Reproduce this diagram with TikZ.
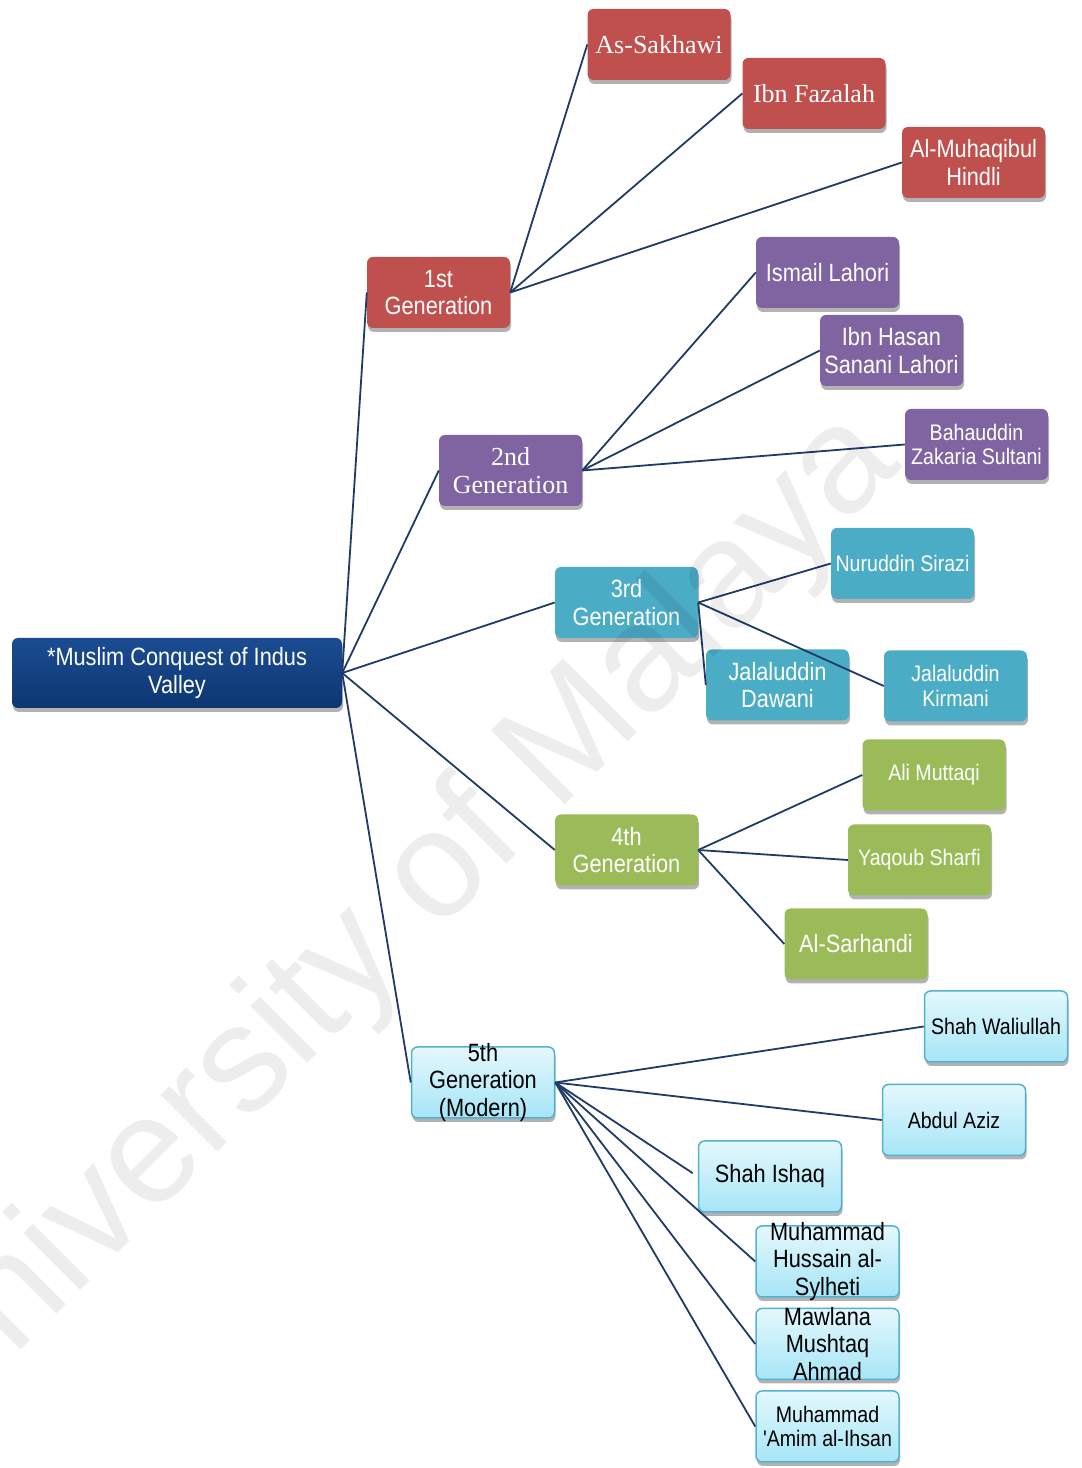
\documentclass[tikz,border=0pt]{standalone}
\usepackage{fontspec}
\setmainfont{Liberation Sans}
\newfontfamily\narrowsf{Liberation Sans}[FakeStretch=0.87]
\newfontfamily\timesrm{Liberation Serif}
\usetikzlibrary{shadows,positioning}
\definecolor{genred}{HTML}{C0504D}
\definecolor{genpurple}{HTML}{8064A2}
\definecolor{genteal}{HTML}{4BACC6}
\definecolor{gengreen}{HTML}{9BBB59}
\definecolor{roottop}{HTML}{1B4C92}
\definecolor{rootbot}{HTML}{0D3672}
\definecolor{moderntop}{HTML}{E4F8FD}
\definecolor{modernbot}{HTML}{A6E5F7}
\definecolor{modernline}{HTML}{55B2CE}
\definecolor{navy}{HTML}{1F3B66}
\tikzstyle{link} = [draw, navy, line width=1.8pt]
\tikzstyle{box} = [rectangle, rounded corners=6pt, minimum width=143pt, minimum height=71pt, inner sep=2pt, align=center, text=white, font=\narrowsf\fontsize{25}{27.5}\selectfont, drop shadow={shadow xshift=1pt, shadow yshift=-4pt, opacity=0.3, fill=black}]
\tikzstyle{small} = [font=\narrowsf\fontsize{22.5}{24.75}\selectfont]
\tikzstyle{serif} = [font=\timesrm\fontsize{26}{28}\selectfont]
\tikzstyle{root} = [box, minimum width=330pt, minimum height=70pt, top color=roottop, bottom color=rootbot]
\tikzstyle{red} = [box, fill=genred]
\tikzstyle{purple} = [box, fill=genpurple]
\tikzstyle{teal} = [box, fill=genteal]
\tikzstyle{green} = [box, fill=gengreen]
\tikzstyle{modern} = [box, text=black, draw=modernline, line width=1.5pt, top color=moderntop, bottom color=modernbot]
\tikzstyle{spill} = [align=center, text=black, font=\narrowsf\fontsize{25}{27.5}\selectfont]
\tikzstyle{watermark} = [text=black, text opacity=0.07, font=\fontsize{152}{152}\selectfont]

\begin{document}
\begin{tikzpicture}[x=1pt, y=1pt]
\useasboundingbox (0,0) rectangle (1082,1468);

\node [root] (conquest) at (177,795) {*Muslim Conquest of Indus\\Valley};

% generations
\node [red, right of=conquest, node distance=261.5pt, yshift=380.5pt] (gen1) {1st\\Generation};
\node [purple, serif, right of=conquest, node distance=333.5pt, yshift=202.5pt] (gen2) {2nd\\Generation};
\node [teal, right of=conquest, node distance=449.5pt, yshift=70.5pt] (gen3) {3rd\\Generation};
\node [green, right of=conquest, node distance=449.5pt, yshift=-177pt] (gen4) {4th\\Generation};
\node [modern, right of=conquest, node distance=306pt, yshift=-409.5pt, label={[spill]center:5th\\Generation\\(Modern)}] (gen5) {};

\path [link] (conquest.east) to (gen1.west);
\path [link] (conquest.east) to (gen2.west);
\path [link] (conquest.east) to (gen3.west);
\path [link] (conquest.east) to (gen4.west);
\path [link] (conquest.east) to (gen5.west);

% 1st generation
\node [red, serif, right of=gen1, node distance=220.5pt, yshift=248pt] (sakhawi) {As-Sakhawi};
\node [red, serif, right of=gen1, node distance=375.5pt, yshift=199pt] (fazalah) {Ibn Fazalah};
\node [red, right of=gen1, node distance=535pt, yshift=130pt] (muhaqib) {Al-Muhaqibul\\Hindli};
\path [link] (gen1.east) to (sakhawi.west);
\path [link] (gen1.east) to (fazalah.west);
\path [link] (gen1.east) to (muhaqib.west);

% 2nd generation
\node [purple, right of=gen2, node distance=317pt, yshift=198pt] (ismail) {Ismail Lahori};
\node [purple, right of=gen2, node distance=381pt, yshift=120pt] (hasan) {Ibn Hasan\\Sanani Lahori};
\node [purple, small, right of=gen2, node distance=466pt, yshift=26pt] (bahauddin) {Bahauddin\\Zakaria Sultani};
\path [link] (gen2.east) to (ismail.west);
\path [link] (gen2.east) to (hasan.west);
\path [link] (gen2.east) to (bahauddin.west);

% 3rd generation
\node [teal, small, right of=gen3, node distance=276pt, yshift=39pt] (nuruddin) {Nuruddin Sirazi};
\node [teal, right of=gen3, node distance=151pt, yshift=-82.5pt] (dawani) {Jalaluddin\\Dawani};
\node [teal, small, right of=gen3, node distance=329pt, yshift=-83.5pt] (kirmani) {Jalaluddin\\Kirmani};
\path [link] (gen3.east) to (nuruddin.west);
\path [link] (gen3.east) to (dawani.west);
\path [link] (gen3.east) to (kirmani.west);

% 4th generation
\node [green, small, right of=gen4, node distance=307.5pt, yshift=75pt] (muttaqi) {Ali Muttaqi};
\node [green, small, right of=gen4, node distance=293pt, yshift=-10pt] (yaqoub) {Yaqoub Sharfi};
\node [green, right of=gen4, node distance=229.5pt, yshift=-94pt] (sarhandi) {Al-Sarhandi};
\path [link] (gen4.east) to (muttaqi.west);
\path [link] (gen4.east) to (yaqoub.west);
\path [link] (gen4.east) to (sarhandi.west);

% 5th generation
\node [modern, small, right of=gen5, node distance=513pt, yshift=56pt] (waliullah) {Shah Waliullah};
\node [modern, small, right of=gen5, node distance=471pt, yshift=-37.5pt] (aziz) {Abdul Aziz};
\node [modern, right of=gen5, node distance=287pt, yshift=-94pt] (ishaq) {Shah Ishaq};
\node [modern, right of=gen5, node distance=344.5pt, yshift=-179pt, label={[spill]center:Muhammad\\Hussain al-\\Sylheti}] (sylheti) {};
\node [modern, right of=gen5, node distance=344.5pt, yshift=-261.5pt, label={[spill]center:Mawlana\\Mushtaq\\Ahmad}] (mushtaq) {};
\node [modern, small, right of=gen5, node distance=344.5pt, yshift=-344pt] (ihsan) {Muhammad\\'Amim al-Ihsan};
\path [link] (gen5.east) to (waliullah.west);
\path [link] (gen5.east) to (aziz.west);
\path [link, shorten >=6pt] (gen5.east) to (ishaq.west);
\path [link] (gen5.east) to (sylheti.west);
\path [link] (gen5.east) to (mushtaq.west);
\path [link] (gen5.east) to (ihsan.west);

\node [watermark, rotate=45] (uni) at (392,545) {University of Malaya};

\end{tikzpicture}
\end{document}
